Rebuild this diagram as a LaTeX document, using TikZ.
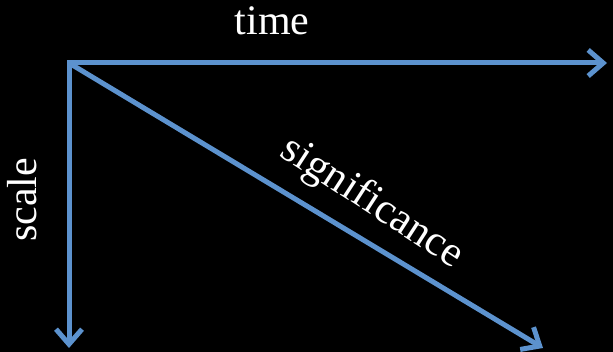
\documentclass[tikz,border=0pt]{standalone}
\usepackage{fontspec}
\setmainfont{Liberation Serif}
\usetikzlibrary{arrows.meta}
\definecolor{axisblue}{RGB}{92,146,206}
\begin{document}
\begin{tikzpicture}[x=1pt,y=-1pt,
  axis/.style={draw=axisblue,line width=5pt,-{Straight Barb[length=15pt,width=26pt,line width=5pt]}},
  lbl/.style={text=white,inner sep=0pt}]
\fill[black] (0,0) rectangle (613,352);
\useasboundingbox (0,0) rectangle (613,352);
\coordinate (o) at (69,63);
\coordinate (tx) at (607,63);
\coordinate (ty) at (69,348);
\coordinate (td) at (543,348);
\draw[axis] (67,63) -- (tx);
\draw[axis] (o) -- (ty);
\draw[axis] (o) -- (td);
\node[lbl,font=\fontsize{42}{42}\selectfont,anchor=base] (time) at (272,35) {time};
\node[lbl,font=\fontsize{42}{42}\selectfont,anchor=base,rotate=90] (scale) at (36,200) {scale};
\node[lbl,font=\fontsize{43}{43}\selectfont,anchor=base,rotate=-33] (sig) at (366,212) {significance};
\end{tikzpicture}
\end{document}
